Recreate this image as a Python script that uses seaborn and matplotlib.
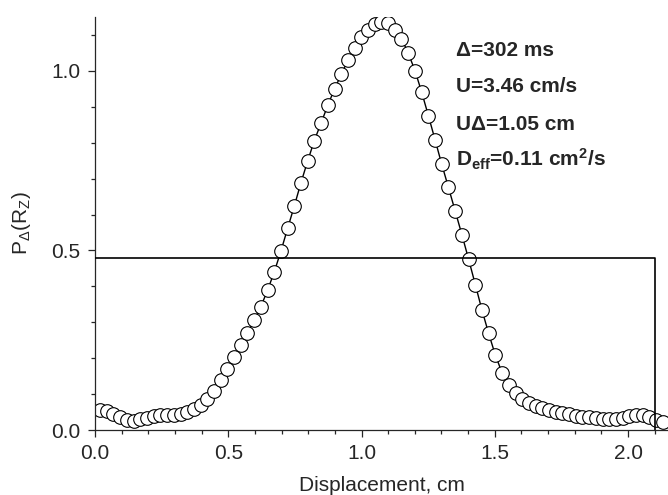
import matplotlib
matplotlib.use('Agg')
import matplotlib.pyplot as plt
from matplotlib.ticker import MultipleLocator
import seaborn as sns

# Datos
disp_cm = [0.019, 0.044, 0.069, 0.094, 0.120, 0.145, 0.170, 0.195, 0.220, 0.245,
           0.270, 0.296, 0.321, 0.346, 0.371, 0.396, 0.421, 0.446, 0.472, 0.497,
           0.522, 0.547, 0.572, 0.597, 0.622, 0.648, 0.673, 0.698, 0.723, 0.748,
           0.773, 0.798, 0.823, 0.849, 0.874, 0.899, 0.924, 0.949, 0.974, 0.999,
           1.025, 1.050, 1.075, 1.100, 1.125, 1.150, 1.175, 1.201, 1.226, 1.251,
           1.276, 1.301, 1.326, 1.351, 1.377, 1.402, 1.427, 1.452, 1.477, 1.502,
           1.527, 1.553, 1.578, 1.603, 1.628, 1.653, 1.678, 1.703, 1.729, 1.754,
           1.779, 1.804, 1.829, 1.854, 1.879, 1.905, 1.930, 1.955, 1.980, 2.005,
           2.030, 2.055, 2.080, 2.106, 2.131]
prob = [0.056, 0.053, 0.044, 0.035, 0.028, 0.025, 0.030, 0.034, 0.039, 0.041,
        0.042, 0.043, 0.045, 0.051, 0.058, 0.069, 0.087, 0.109, 0.139, 0.171,
        0.203, 0.236, 0.270, 0.306, 0.343, 0.390, 0.441, 0.499, 0.562, 0.624,
        0.689, 0.749, 0.806, 0.856, 0.905, 0.950, 0.990, 1.030, 1.065, 1.093,
        1.115, 1.130, 1.137, 1.132, 1.115, 1.090, 1.050, 1.000, 0.940, 0.875,
        0.808, 0.740, 0.676, 0.611, 0.543, 0.475, 0.405, 0.334, 0.269, 0.209,
        0.160, 0.125, 0.102, 0.086, 0.076, 0.067, 0.060, 0.056, 0.051, 0.046,
        0.044, 0.040, 0.037, 0.035, 0.033, 0.031, 0.030, 0.031, 0.034, 0.039,
        0.042, 0.042, 0.037, 0.028, 0.021]

# perfil de escalon (velocidad uniforme)
step_x = [0.0, 2.10, 2.10]
step_y = [0.479, 0.479, 0.0]

labels = ['\u0394=302 ms', 'U=3.46 cm/s', 'U\u0394=1.05 cm', 'D$_{eff}$=0.11 cm$^2$/s']
label_y = [1.040, 0.940, 0.836, 0.733]

sns.set_style('ticks')
plt.rcParams['font.family'] = ['Liberation Sans', 'DejaVu Sans']
plt.rcParams['mathtext.default'] = 'regular'

fig = plt.figure(figsize=(6.68, 4.95), dpi=100)
ax = fig.add_axes([0.1422, 0.1313, 0.8578, 0.8344])

sns.lineplot(x=disp_cm, y=prob, ax=ax, sort=False, estimator=None,
             color='black', lw=1.0, marker='o', markersize=9.8,
             markerfacecolor='white', markeredgecolor='black', markeredgewidth=0.8,
             zorder=2)
sns.lineplot(x=step_x, y=step_y, ax=ax, sort=False, estimator=None,
             color='black', lw=1.2, zorder=3)

for txt, yy in zip(labels, label_y):
    ax.text(1.354, yy, txt, fontsize=15, fontweight='bold', va='baseline', ha='left')

ax.set_xlim(0, 2.15)
ax.set_ylim(0, 1.15)
ax.xaxis.set_major_locator(MultipleLocator(0.5))
ax.xaxis.set_minor_locator(MultipleLocator(0.1))
ax.yaxis.set_major_locator(MultipleLocator(0.5))
ax.yaxis.set_minor_locator(MultipleLocator(0.1))
ax.tick_params(which='major', direction='out', length=5.3, width=0.9, labelsize=15, pad=5)
ax.tick_params(which='minor', direction='out', length=3, width=0.9)
ax.set_xlabel('Displacement, cm', fontsize=15, labelpad=9)
ax.set_ylabel('P$_\u0394$(R$_Z$)', fontsize=15, labelpad=13)

sns.despine(ax=ax)
for s in ['left', 'bottom']:
    ax.spines[s].set_linewidth(0.9)

plt.savefig('out.png', dpi=100)
plt.close()
